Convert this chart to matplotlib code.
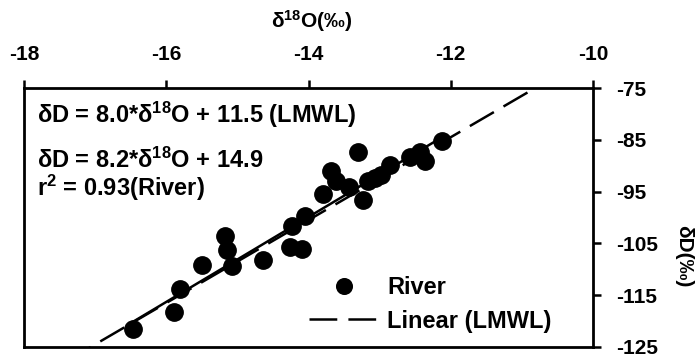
import matplotlib
matplotlib.use("Agg")
import matplotlib.pyplot as plt
import numpy as np

plt.rcParams['font.family'] = ['Liberation Sans', 'DejaVu Sans']
plt.rcParams['font.weight'] = 'bold'
plt.rcParams['mathtext.fontset'] = 'custom'
plt.rcParams['mathtext.rm'] = 'Liberation Sans:bold'
plt.rcParams['mathtext.bf'] = 'Liberation Sans:bold'
plt.rcParams['mathtext.default'] = 'bf'
plt.rcParams['lines.scale_dashes'] = False

# River samples: delta-18O and delta-D (permil)
d18o = [-16.47, -15.89, -15.81, -15.50, -15.17, -15.14, -15.07, -14.64,
        -14.26, -14.09, -14.23, -14.05, -13.79, -13.68, -13.61, -13.30,
        -13.43, -13.23, -13.16, -13.06, -12.98, -12.85, -12.57, -12.43,
        -12.36, -12.12]
dD = [-121.5, -118.3, -113.8, -109.2, -103.5, -106.2, -109.4, -108.3,
      -105.6, -106.0, -101.7, -99.8, -95.4, -91.0, -92.9, -87.3,
      -94.2, -96.7, -92.9, -92.3, -91.7, -89.8, -88.3, -87.3,
      -89.0, -85.2]

# Fitted lines
lmwl_slope, lmwl_icpt = 8.0, 11.5
river_slope, river_icpt = 8.2, 14.9

x_ticks = [-18, -16, -14, -12, -10]
y_ticks = [-75, -85, -95, -105, -115, -125]

fs_tick = 15
fs_text = 17

fig = plt.figure(figsize=(7, 3.6), dpi=100)
ax = fig.add_axes([24/700, 1-347/360, (593-24)/700, (347-88)/360])
ax.set_xlim(-18, -10)
ax.set_ylim(-125, -75)

# LMWL across the full plotting range
xl = np.linspace(-18, -10, 200)
ax.plot(xl, lmwl_slope*xl + lmwl_icpt, color='black', lw=1.8,
        dashes=(20, 8), label='Linear (LMWL)', zorder=2)

# River regression over the sampled range
xr = np.array([min(d18o) - 0.03, max(d18o)])
ax.plot(xr, river_slope*xr + river_icpt, color='black', lw=1.8,
        solid_capstyle='butt', zorder=2)

ax.plot(d18o, dD, 'o', color='black', markersize=12.5, linestyle='none',
        label='River', zorder=3)

ax.xaxis.tick_top()
ax.yaxis.tick_right()
ax.set_xticks(x_ticks)
ax.set_yticks(y_ticks)
ax.set_xticklabels([str(v) for v in x_ticks])
ax.set_yticklabels([str(v) for v in y_ticks])
ax.tick_params(axis='both', direction='out', length=6, width=1.8,
               labelsize=fs_tick, colors='black')
ax.tick_params(axis='x', pad=11)
ax.tick_params(axis='y', pad=11)
for s in ax.spines.values():
    s.set_linewidth(2.0)

# Axis titles
fig.text(312/700, 1-21/360, r'δ$^{18}$O(‰)', fontsize=fs_tick,
         ha='center', va='center')
fig.text(684/700, 1-256/360, 'δD(‰)', fontsize=fs_tick, rotation=-90,
         ha='center', va='center')

ax.text(0.022, 0.895, r'δD = 8.0*δ$^{18}$O + 11.5 (LMWL)', transform=ax.transAxes,
        fontsize=fs_text, va='center', ha='left')
ax.text(0.022, 0.72, r'δD = 8.2*δ$^{18}$O + 14.9', transform=ax.transAxes,
        fontsize=fs_text, va='center', ha='left')
ax.text(0.022, 0.615, r'r$^{2}$ = 0.93(River)', transform=ax.transAxes,
        fontsize=fs_text, va='center', ha='left')

handles, labels = ax.get_legend_handles_labels()
order = [1, 0]
leg = ax.legend([handles[i] for i in order], [labels[i] for i in order],
                loc='upper left', bbox_to_anchor=((309-24)/569, (347-276)/259),
                frameon=False, fontsize=fs_text, handlelength=2.95,
                handletextpad=0.35, labelspacing=0.45, borderpad=0,
                borderaxespad=0, markerscale=0.9)

fig.savefig('out.png', dpi=100)
